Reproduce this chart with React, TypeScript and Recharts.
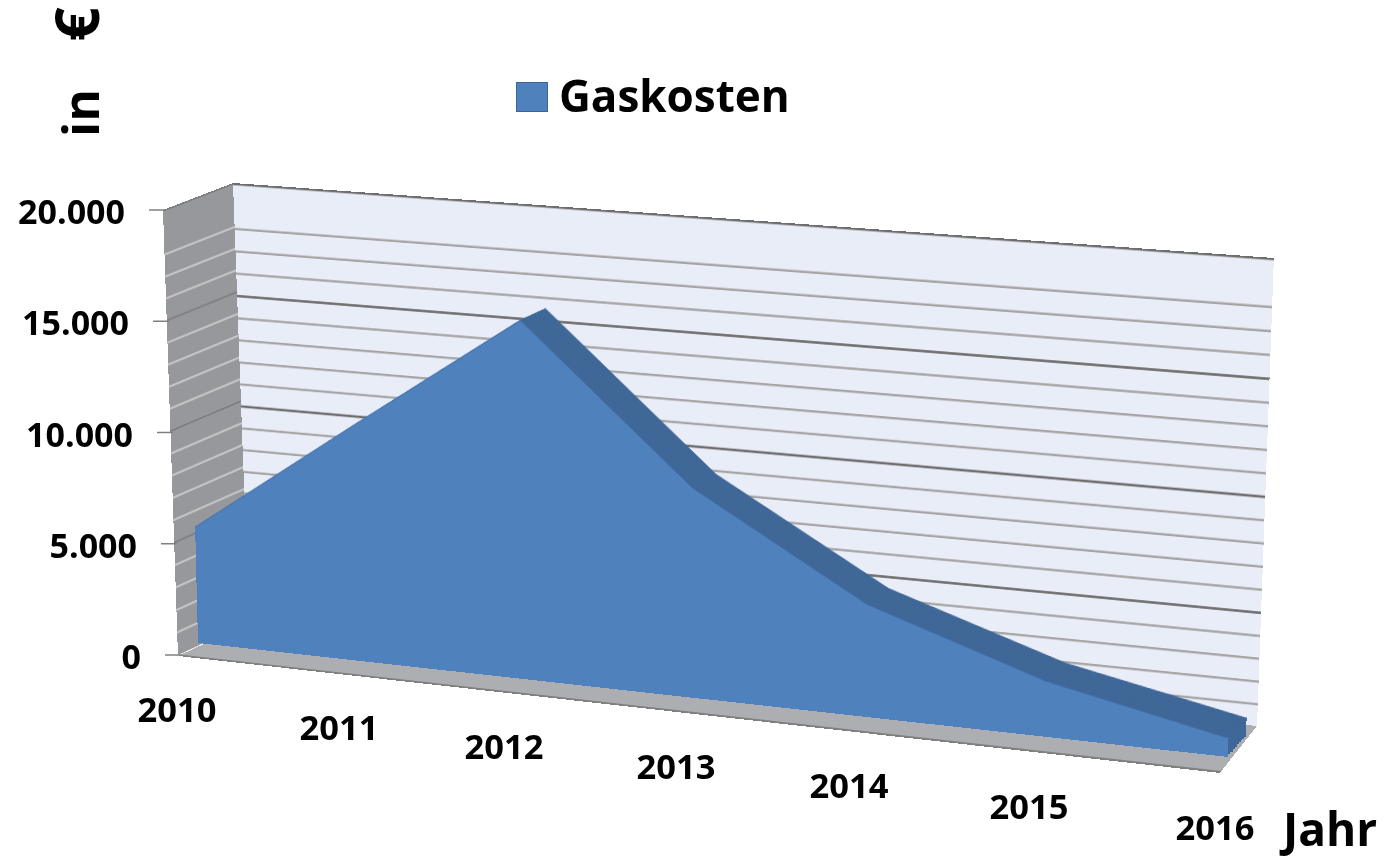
import React from "react";
import { AreaChart, Area, CartesianGrid, Label, Legend, Line, LineChart, XAxis, YAxis } from "recharts";

const years = ["2010", "2011", "2012", "2013", "2014", "2015", "2016"];
const gaskosten = [5300, 10600, 15800, 9200, 4900, 2400, 800];
const yTicks = [0, 5000, 10000, 15000, 20000];
const gridLines = [
     0, 1000, 2000, 3000, 4000, 5000, 6000, 7000, 8000, 9000, 10000,
     11000, 12000, 13000, 14000, 15000, 16000, 17000, 18000, 19000, 20000,
];
const xTickNudge = [0, -11, -19, -20, -20, -13, 0];

const data = years.map((year, i) => ({ year, value: gaskosten[i] }));

const FONT = "'Open Sans', sans-serif";
const W = 1000;
const H = 500;

type Pt = [number, number];
type Quad = [Pt, Pt, Pt, Pt]; // top-left, top-right, bottom-right, bottom-left

// the 3D look: every plane is a flat chart mapped on a quad
const leftWall: Quad = [[163, 210], [233, 183], [249, 623], [178, 656]];
const backWall: Quad = [[233, 183], [1274, 258], [1257, 728], [249, 623]];
const floor: Quad = [[249, 623], [1257, 726], [1220, 773], [178, 656]];
const frontPlane: Quad = [[187, 198], [1243, 276], [1228, 757], [198, 643]];
const backPlane: Quad = [[215, 190], [1261, 256], [1246, 737], [226, 635]];

const quadMatrix = (q: Quad, w: number, h: number) => {
     const [[x0, y0], [x1, y1], [x2, y2], [x3, y3]] = q;
     const dx1 = x1 - x2, dx2 = x3 - x2, sx = x0 - x1 + x2 - x3;
     const dy1 = y1 - y2, dy2 = y3 - y2, sy = y0 - y1 + y2 - y3;
     const det = dx1 * dy2 - dx2 * dy1;
     const g = (sx * dy2 - dx2 * sy) / det;
     const k = (dx1 * sy - sx * dy1) / det;
     const a = x1 - x0 + g * x1, b = x3 - x0 + k * x3;
     const d = y1 - y0 + g * y1, e = y3 - y0 + k * y3;
     return `matrix3d(${a / w},${d / w},0,${g / w},${b / h},${e / h},0,${k / h},0,0,1,0,${x0},${y0},0,1)`;
};

const mixQuad = (a: Quad, b: Quad, t: number) =>
     a.map((p, i) => [p[0] + (b[i][0] - p[0]) * t, p[1] + (b[i][1] - p[1]) * t]) as Quad;

const planeStyle = (q: Quad, w = W, h = H): React.CSSProperties => ({
     position: "absolute",
     left: 0,
     top: 0,
     transformOrigin: "0 0",
     transform: quadMatrix(q, w, h),
});

const WallPlane = ({ quad, fill, minor, major }: { quad: Quad; fill: string; minor: string; major: string }) => (
     <div style={planeStyle(quad)}>
          <LineChart width={W} height={H} data={data} margin={{ top: 1, right: 0, bottom: 1, left: 0 }}>
               <XAxis dataKey="year" hide scale="point" />
               <YAxis hide domain={[0, 20000]} ticks={gridLines} />
               <CartesianGrid fill={fill} vertical={false} horizontalValues={gridLines} stroke={minor} strokeWidth={2.5} />
               <CartesianGrid vertical={false} horizontalValues={yTicks} stroke={major} strokeWidth={2.5} />
               {/* no visible series here, the axes only need something to scale on */}
               <Line dataKey="value" stroke="none" dot={false} legendType="none" isAnimationActive={false} />
          </LineChart>
     </div>
);

const AreaPlane = ({ quad, fill, stroke }: { quad: Quad; fill: string; stroke: string }) => (
     <div style={planeStyle(quad)}>
          <AreaChart width={W} height={H} data={data} margin={{ top: 0, right: 0, bottom: 0, left: 0 }}>
               <XAxis dataKey="year" hide scale="point" />
               <YAxis hide domain={[0, 20000]} />
               <Area type="linear" dataKey="value" fill={fill} fillOpacity={1} stroke={stroke} strokeWidth={1} isAnimationActive={false} />
          </AreaChart>
     </div>
);

const YTick = ({ y, payload }: any) => {
     const right = 125 + (16 * (y - 210)) / 445;
     return (
          <g>
               <line x1={right + 24} x2={right + 40} y1={y} y2={y} stroke="#808080" strokeWidth={1.5} />
               <text x={right} y={y + 14} textAnchor="end" fontFamily={FONT} fontWeight={700} fontSize={34} fill="#000">
                    {payload.value.toLocaleString("de-DE")}
               </text>
          </g>
     );
};

const XTick = ({ x, index, payload }: any) => (
     <text
          x={x + xTickNudge[index]}
          y={722 + (x + xTickNudge[index] - 177) * 0.1137}
          textAnchor="middle"
          fontFamily={FONT}
          fontWeight={700}
          fontSize={34.5}
          fill="#000"
     >
          {payload.value}
     </text>
);

const GasLegend = ({ payload }: any) => (
     <div style={{ display: "flex", alignItems: "center", fontFamily: FONT, fontWeight: 700, fontSize: 44, color: "#000" }}>
          <span style={{ width: 30, height: 28, background: "#4f81bd", border: "1px solid #3a6596", marginRight: 11, position: "relative", top: 2 }} />
          {payload?.[0]?.value}
     </div>
);

export default function App() {
     const sweep = [1, 0.875, 0.75, 0.625, 0.5, 0.375, 0.25, 0.125];
     return (
          <div style={{ position: "absolute", left: 0, top: 0, width: 1388, height: 860, overflow: "hidden", background: "#fff" }}>
               <WallPlane quad={leftWall} fill="#97989b" minor="#c4c5c7" major="#7c7d80" />
               <WallPlane quad={backWall} fill="#e8edf7" minor="#a5a5a5" major="#6e6e6e" />
               <div style={planeStyle(floor, W, 50)}>
                    <LineChart width={W} height={50} data={data} margin={{ top: 0, right: 0, bottom: 1, left: 0 }}>
                         <XAxis dataKey="year" hide scale="point" />
                         <YAxis hide domain={[0, 20000]} />
                         <CartesianGrid fill="#acaeb2" vertical={false} horizontalValues={[0]} stroke="#808080" strokeWidth={2} />
                         <Line dataKey="value" stroke="none" dot={false} legendType="none" isAnimationActive={false} />
                    </LineChart>
               </div>
               {sweep.map((t) => (
                    <AreaPlane key={t} quad={mixQuad(frontPlane, backPlane, t)} fill="#3f6797" stroke="#3f6797" />
               ))}
               <AreaPlane quad={frontPlane} fill="#4f81bd" stroke="#3d6ca6" />
               <div style={{ position: "absolute", left: 0, top: 0 }}>
                    <LineChart width={1388} height={860} data={data} margin={{ top: 210, right: 173, bottom: 115, left: 117 }}>
                         <XAxis dataKey="year" scale="point" height={30} axisLine={false} tickLine={false} interval={0} tick={<XTick />}>
                              <Label
                                   content={() => (
                                        <text x={1283} y={846} fontFamily={FONT} fontWeight={700} fontSize={46} fill="#000">
                                             Jahr
                                        </text>
                                   )}
                              />
                         </XAxis>
                         <YAxis width={60} domain={[0, 20000]} ticks={yTicks} axisLine={false} tickLine={false} interval={0} tick={<YTick />}>
                              <Label
                                   content={() => (
                                        <text transform="translate(99,137) rotate(-90)" fontFamily={FONT} fontWeight={700} fontSize={50} fill="#000">
                                             {"in\u00a0\u00a0\u00a0\u2009"}
                                             <tspan fontSize={60}>€</tspan>
                                        </text>
                                   )}
                              />
                         </YAxis>
                         <Line dataKey="value" name="Gaskosten" stroke="none" dot={false} isAnimationActive={false} />
                         <Legend content={<GasLegend />} wrapperStyle={{ position: "absolute", left: 516, top: 65, width: "auto", bottom: "auto" }} />
                    </LineChart>
               </div>
          </div>
     );
}
